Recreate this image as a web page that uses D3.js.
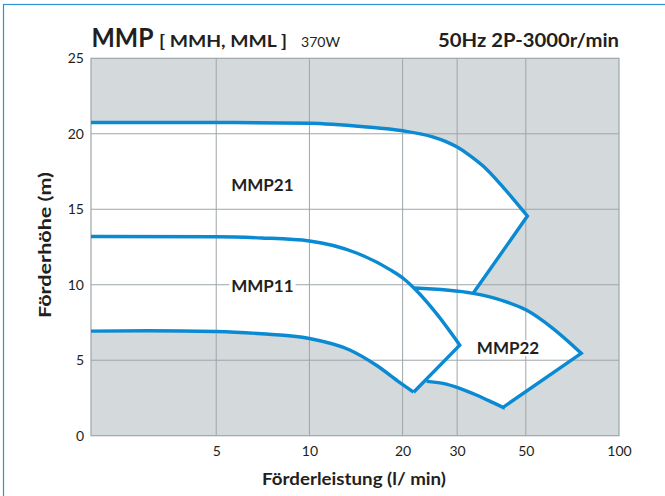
<!DOCTYPE html>
<html><head><meta charset="utf-8">
<script src="https://cdn.jsdelivr.net/npm/d3@7"></script>
<style>
body{margin:0;background:#fff}
svg text{font-family:Lato,"Open Sans",sans-serif;fill:#231f20}
</style>
</head><body>
<svg id="c" width="665" height="496"></svg>
<script>
// ---- data (flow l/min, head m) ----
const xTicks = [5, 10, 20, 30, 50, 100];
const yTicks = [0, 5, 10, 15, 20, 25];
const mmp21Top = [[1.97,20.75],[5,20.75],[10,20.7],[15,20.47],[20,20.2],[25,19.8],[27.5,19.5],[30,19.12],[33,18.56],[36.4,17.86],[42.2,16.47],[50.6,14.55]];
const mmp21Join = [33.8, 9.43];
const mmp11Top = [[1.97,13.2],[5,13.18],[7,13.1],[10,12.9],[14.2,12.1],[18.2,11.0],[20.3,10.35],[22.2,9.6],[25.7,8.1],[30.6,6.0]];
const mmp11End = [21.7, 2.88];
const lowCurve = [[1.97,6.93],[3,6.95],[5,6.9],[7,6.75],[10,6.44],[13.5,5.68],[16.5,4.65],[19.6,3.52],[21.7,2.88]];
const mmp22Top = [[21.8,9.78],[33.8,9.43],[42.2,8.94],[50.2,8.32],[61.1,7.11],[75.5,5.46]];
const mmp22Bottom = [[23.9,3.6],[27,3.47],[30.6,3.14],[34.6,2.7],[39.2,2.19],[42.2,1.88]];
const curveLabels = [{name:"MMP21", q:7.05, h:16.2},{name:"MMP11", q:7.05, h:9.53},{name:"MMP22", q:43.8, h:5.41}];

// ---- layout ----
const svg = d3.select("#c");
const L = 91, R = 619, T = 58.3, B = 435.7;
const x = d3.scaleLog().domain([1.97, 100]).range([L, R]);
const y = d3.scaleLinear().domain([0, 25]).range([B, T]);
const blue = "#0a8ad2";

svg.append("rect").attr("x",3.5).attr("y",4.5).attr("width",700).attr("height",600)
  .attr("fill","none").attr("stroke","#2b93d6").attr("stroke-width",1.2);

svg.append("rect").attr("x",L).attr("y",T).attr("width",R-L).attr("height",B-T).attr("fill","#d4d9db");

const line = d3.line().x(d=>x(d[0])).y(d=>y(d[1])).curve(d3.curveMonotoneX);
const seg = pts => line(pts);
const cont = pts => line(pts).replace(/^M/, "L");
const pt = p => "L" + x(p[0]) + "," + y(p[1]);

const mmp11Left = mmp11Top.filter(d => d[0] <= 22.2).slice().reverse();
const fills = [
  seg(mmp21Top) + pt(mmp21Join) + pt(mmp22Top[0]) + cont(mmp11Left) + "Z",
  seg(mmp11Top) + pt(mmp11End) + cont(lowCurve.slice().reverse()) + "Z",
  seg(mmp22Top) + pt(mmp22Bottom[mmp22Bottom.length-1]) + cont(mmp22Bottom.slice().reverse()) + "Z"
];
svg.append("g").selectAll("path").data(fills).join("path")
  .attr("d", d=>d).attr("fill","#fff").attr("stroke","#fff").attr("stroke-width",0.8);

// grid
const grid = svg.append("g").attr("stroke","#9ea6a9").attr("stroke-width",1);
grid.selectAll("line.v").data(xTicks.filter(d=>d<100)).join("line")
  .attr("x1",d=>x(d)).attr("x2",d=>x(d)).attr("y1",T).attr("y2",B);
grid.selectAll("line.h").data(yTicks.filter(d=>d>0 && d<25)).join("line")
  .attr("y1",d=>y(d)).attr("y2",d=>y(d)).attr("x1",L).attr("x2",R);
svg.append("rect").attr("x",L).attr("y",T).attr("width",R-L).attr("height",B-T)
  .attr("fill","none").attr("stroke","#9ea6a9").attr("stroke-width",1.2);

// curve labels with white backing
const lab = svg.append("g");
curveLabels.forEach(c => {
  const t = lab.append("text").attr("x", x(c.q)).attr("y", y(c.h)).attr("text-anchor","middle")
    .attr("font-weight","bold").attr("font-size",17).text(c.name);
  const bb = t.node().getBBox();
  lab.insert("rect", "text").attr("x",bb.x-2).attr("y",bb.y+3).attr("width",bb.width+4).attr("height",bb.height-5).attr("fill","#fff");
});

// curves
const strokes = [
  seg(mmp21Top) + pt(mmp21Join),
  seg(mmp11Top) + pt(mmp11End),
  seg(lowCurve),
  seg(mmp22Top) + pt(mmp22Bottom[mmp22Bottom.length-1]) + cont(mmp22Bottom.slice().reverse())
];
svg.append("g").selectAll("path").data(strokes).join("path")
  .attr("d", d=>d).attr("fill","none").attr("stroke",blue).attr("stroke-width",3.4)
  .attr("stroke-linejoin","miter").attr("stroke-linecap","butt");

// axes
const xa = svg.append("g").attr("transform",`translate(0,${B})`)
  .call(d3.axisBottom(x).tickValues(xTicks).tickFormat(d3.format("d")).tickSize(0).tickPadding(10));
const ya = svg.append("g").attr("transform",`translate(${L},0)`)
  .call(d3.axisLeft(y).tickValues(yTicks).tickSize(0).tickPadding(7));
[xa, ya].forEach(a => {
  a.select(".domain").remove();
  a.selectAll("text").attr("font-family","Lato,'Open Sans',sans-serif").attr("font-size",14).attr("fill","#333");
});

// titles
const fit = (sel, w) => sel.attr("textLength", w).attr("lengthAdjust","spacingAndGlyphs");
fit(svg.append("text").attr("x",91.5).attr("y",46.7).attr("font-weight","bold").attr("font-size",27).text("MMP"), 62);
fit(svg.append("text").attr("x",159).attr("y",47.3).attr("font-weight","bold").attr("font-size",17).text("[ MMH, MML ]"), 128);
fit(svg.append("text").attr("x",301).attr("y",47.3).attr("font-size",12.5).text("370W"), 39);
fit(svg.append("text").attr("x",438).attr("y",46.7).attr("font-weight","bold").attr("font-size",18).text("50Hz 2P-3000r/min"), 181);
fit(svg.append("text").attr("transform",`translate(51,${(T+B)/2-2}) rotate(-90)`).attr("text-anchor","middle")
  .attr("font-weight","bold").attr("font-size",17).text("Förderhöhe (m)"), 146);
fit(svg.append("text").attr("x",(262+446)/2).attr("y",485).attr("text-anchor","middle")
  .attr("font-weight","bold").attr("font-size",17).text("Förderleistung (l/ min)"), 184);
</script>
</body></html>
